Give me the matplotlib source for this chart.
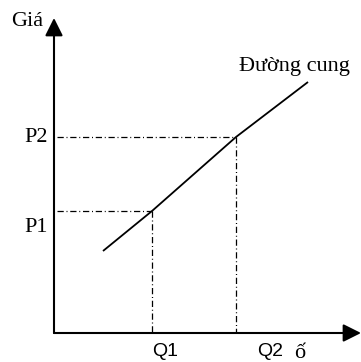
import matplotlib.pyplot as plt

# supply curve (origin = axis corner)
supply_q = [49, 98, 182, 254]
supply_p = [82, 122, 196, 251]

q_marks = [98, 182]
q_labels = ["Q1", "Q2"]
p_marks = [122, 196]
p_labels = ["P1", "P2"]

serif = ["Liberation Serif", "DejaVu Serif"]
sans = ["Liberation Sans", "DejaVu Sans"]

fig = plt.figure(figsize=(3.61, 3.62), dpi=100)
ax = fig.add_axes([0, 0, 1, 1])
ax.set_xlim(-54, 307)
ax.set_ylim(-29, 333)
ax.axis("off")

# axes with arrow heads
arrow = dict(arrowstyle="-|>,head_length=0.6,head_width=0.3", mutation_scale=18,
             lw=1.5, color="black", shrinkA=0, shrinkB=0)
ax.annotate("", xy=(0, 315), xytext=(0, 0), arrowprops=arrow)
ax.annotate("", xy=(307, 0), xytext=(0, 0), arrowprops=arrow)

# supply line
ax.plot(supply_q, supply_p, color="black", lw=1.3, solid_capstyle="butt")

# dash-dot guides
dd = (0, (5, 2.2, 0.8, 2.2))
for q, p in zip(q_marks, p_marks):
    ax.plot([3, q], [p, p], color="black", lw=0.9, linestyle=dd)
    ax.plot([q, q], [p, 0], color="black", lw=0.9, linestyle=dd)

ax.text(-11, 307, "Giá", family=serif, fontsize=16, ha="right", va="baseline")
ax.text(-6, p_marks[1], p_labels[1], family=serif, fontsize=16, ha="right", va="center")
ax.text(-6, p_marks[0] - 16, p_labels[0], family=serif, fontsize=16, ha="right", va="center")
ax.text(q_marks[0] + 13, -19, q_labels[0], family=sans, fontsize=14, ha="center", va="center")
ax.text(q_marks[1] + 34, -19, q_labels[1], family=sans, fontsize=14, ha="center", va="center")
ax.text(240, -25, "ố", family=serif, fontsize=16, ha="left", va="baseline")
ax.text(185, 262, "Đường cung", family=serif, fontsize=16, ha="left", va="baseline")

fig.savefig("out.png", dpi=100)
